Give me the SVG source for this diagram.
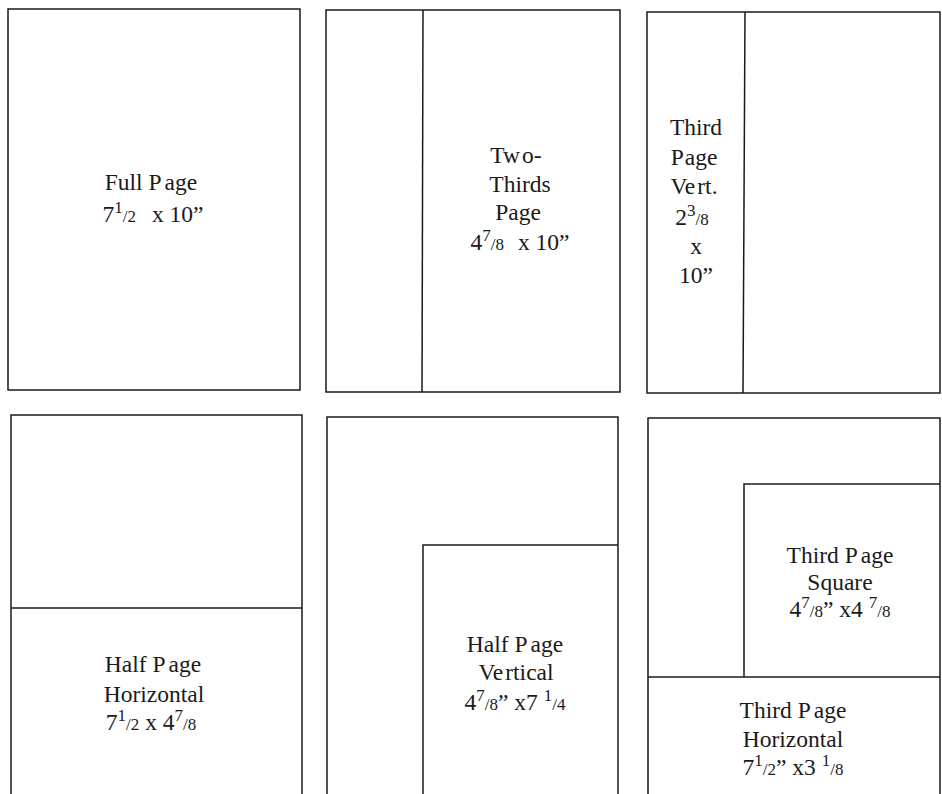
<svg xmlns="http://www.w3.org/2000/svg" width="942" height="794" viewBox="0 0 942 794">
<style>
.frame{fill:#fff;stroke:#1a1a1a;stroke-width:1.5}
.ln{stroke:#1a1a1a;stroke-width:1.5;fill:none}
.t{font-family:"Liberation Serif","Times New Roman",serif;font-size:23.5px;fill:#1a1a1a;text-anchor:middle}
.s{font-size:17px}
</style>
<rect width="942" height="794" fill="#fff"/>
<g id="full-page">
<rect class="frame" x="8" y="9" width="292" height="381"/>
<text class="t" x="151" y="190">Full P<tspan dx="3">age</tspan></text>
<text class="t" x="153" y="222">7<tspan class="s" dy="-9">1</tspan><tspan class="s" dy="9">/2</tspan><tspan dx="16">x 10”</tspan></text>
</g>
<g id="two-thirds">
<rect class="frame" x="326" y="10" width="294" height="382"/>
<line class="ln" x1="423" y1="10" x2="422" y2="392"/>
<text class="t" x="516" y="163">Tw<tspan dx="2">o-</tspan></text>
<text class="t" x="520" y="192">Thirds</text>
<text class="t" x="518" y="220">Page</text>
<text class="t" x="520" y="250">4<tspan class="s" dy="-9">7</tspan><tspan class="s" dy="9">/8</tspan><tspan dx="14">x 10”</tspan></text>
</g>
<g id="third-page-vert">
<rect class="frame" x="647" y="12" width="293" height="381"/>
<line class="ln" x1="745" y1="12" x2="743" y2="393"/>
<text class="t" x="696" y="135">Third</text>
<text class="t" x="694" y="165">P<tspan dx="1">age</tspan></text>
<text class="t" x="694" y="194">Ve<tspan dx="2">rt.</tspan></text>
<text class="t" x="692" y="225">2<tspan class="s" dy="-9">3</tspan><tspan class="s" dy="9">/8</tspan></text>
<text class="t" x="696" y="254">x</text>
<text class="t" x="696" y="283">10”</text>
</g>
<g id="half-page-horizontal">
<path class="ln" d="M11 794 V415 H302 V794"/>
<line class="ln" x1="11" y1="608" x2="302" y2="608"/>
<text class="t" x="153" y="672">Half P<tspan dx="3">age</tspan></text>
<text class="t" x="154" y="702">Horizontal</text>
<text class="t" x="151" y="730">7<tspan class="s" dy="-9">1</tspan><tspan class="s" dy="9">/2</tspan> x 4<tspan class="s" dy="-9">7</tspan><tspan class="s" dy="9">/8</tspan></text>
</g>
<g id="half-page-vertical">
<path class="ln" d="M327 794 V417 H618 V794"/>
<path class="ln" d="M423 794 V545 H618"/>
<text class="t" x="515" y="652">Half P<tspan dx="3">age</tspan></text>
<text class="t" x="516" y="680">Ve<tspan dx="2">rtical</tspan></text>
<text class="t" x="515" y="710">4<tspan class="s" dy="-9">7</tspan><tspan class="s" dy="9">/8</tspan>” x7 <tspan class="s" dy="-9">1</tspan><tspan class="s" dy="9">/4</tspan></text>
</g>
<g id="third-page-square">
<path class="ln" d="M648 794 V418 H940 V794"/>
<path class="ln" d="M744 677 V484 H940"/>
<text class="t" x="840" y="563">Third P<tspan dx="3">age</tspan></text>
<text class="t" x="840" y="590">Square</text>
<text class="t" x="840" y="617">4<tspan class="s" dy="-9">7</tspan><tspan class="s" dy="9">/8</tspan>” x4 <tspan class="s" dy="-9">7</tspan><tspan class="s" dy="9">/8</tspan></text>
</g>
<g id="third-page-horizontal">
<line class="ln" x1="648" y1="677" x2="940" y2="677"/>
<text class="t" x="793" y="718">Third P<tspan dx="3">age</tspan></text>
<text class="t" x="793" y="747">Horizontal</text>
<text class="t" x="793" y="775">7<tspan class="s" dy="-9">1</tspan><tspan class="s" dy="9">/2</tspan>” x3 <tspan class="s" dy="-9">1</tspan><tspan class="s" dy="9">/8</tspan></text>
</g>
</svg>
